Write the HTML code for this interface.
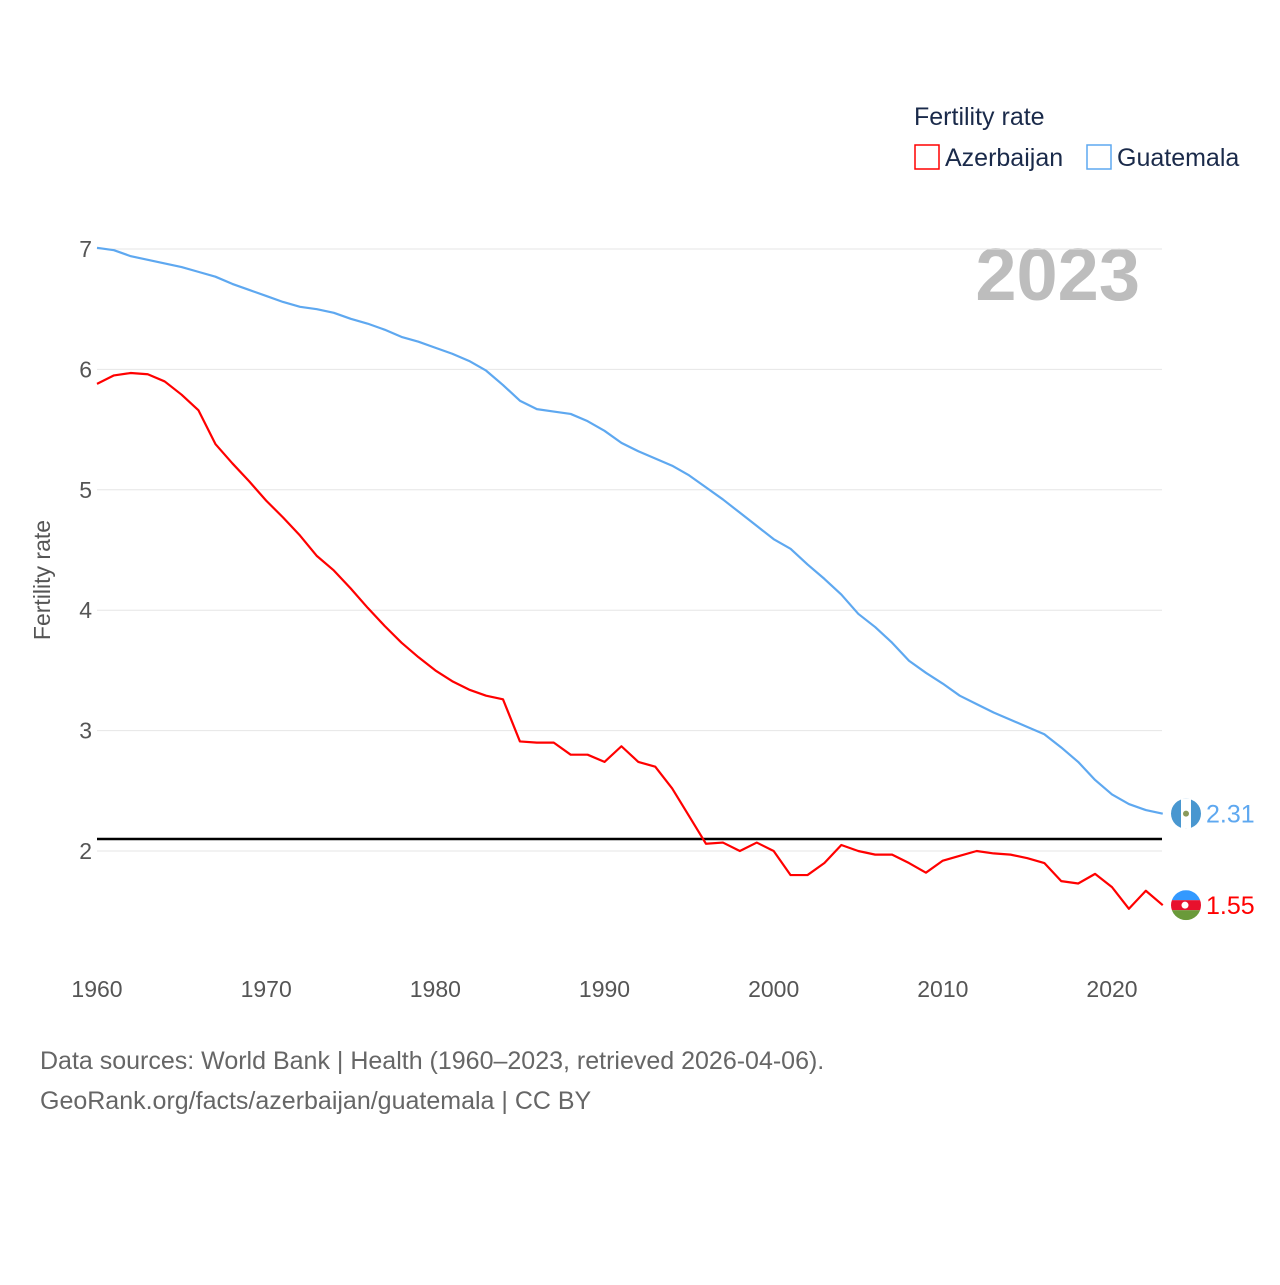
<!DOCTYPE html>
<html><head><meta charset="utf-8">
<style>
body{margin:0;background:#fff;font-family:"Liberation Sans",sans-serif;}
svg text{font-family:"Liberation Sans",sans-serif;}
</style></head>
<body>
<svg id="chart" width="1280" height="1280" xmlns="http://www.w3.org/2000/svg">
<rect width="1280" height="1280" fill="#fff"/>
<g>
<text x="914" y="125" font-size="25" fill="#1a2a4a">Fertility rate</text>
<rect x="915" y="145" width="24" height="24" fill="none" stroke="#f00" stroke-width="1.5"/>
<text x="945" y="166" font-size="25" fill="#1a2a4a">Azerbaijan</text>
<rect x="1087" y="145" width="24" height="24" fill="none" stroke="#5ea8f0" stroke-width="1.5"/>
<text x="1117" y="166" font-size="25" fill="#1a2a4a">Guatemala</text>
</g>
<text x="1140" y="300" font-size="74" font-weight="bold" fill="#bdbdbd" text-anchor="end">2023</text>
<g id="grid"></g>
<g id="yt"></g>
<g id="xt"></g>
<text transform="translate(50,580) rotate(-90)" font-size="23" fill="#555" text-anchor="middle">Fertility rate</text>
<g id="series"></g>
<text x="40" y="1069" font-size="25" fill="#666">Data sources: World Bank | Health (1960–2023, retrieved 2026-04-06).</text>
<text x="40" y="1109" font-size="25" fill="#666">GeoRank.org/facts/azerbaijan/guatemala | CC BY</text>
</svg>
<script>
const years=[];for(let y=1960;y<=2023;y++)years.push(y);
const guatemala=[7.01,6.99,6.94,6.91,6.88,6.85,6.81,6.77,6.71,6.66,6.61,6.56,6.52,6.50,6.47,6.42,6.38,6.33,6.27,6.23,6.18,6.13,6.07,5.99,5.87,5.74,5.67,5.65,5.63,5.57,5.49,5.39,5.32,5.26,5.20,5.12,5.02,4.92,4.81,4.70,4.59,4.51,4.38,4.26,4.13,3.97,3.86,3.73,3.58,3.48,3.39,3.29,3.22,3.15,3.09,3.03,2.97,2.86,2.74,2.59,2.47,2.39,2.34,2.31];
const azerbaijan=[5.88,5.95,5.97,5.96,5.90,5.79,5.66,5.38,5.22,5.07,4.91,4.77,4.62,4.45,4.33,4.18,4.02,3.87,3.73,3.61,3.50,3.41,3.34,3.29,3.26,2.91,2.90,2.90,2.80,2.80,2.74,2.87,2.74,2.70,2.52,2.29,2.06,2.07,2.00,2.07,2.00,1.80,1.80,1.90,2.05,2.00,1.97,1.97,1.90,1.82,1.92,1.96,2.00,1.98,1.97,1.94,1.90,1.75,1.73,1.81,1.70,1.52,1.67,1.55];
const yTicks=[2,3,4,5,6,7];
const xTicks=[1960,1970,1980,1990,2000,2010,2020];
const refLine=2.1;
const NS="http://www.w3.org/2000/svg";
const X=y=>97+(y-1960)*(1015/60);
const Y=v=>851-(v-2)*120.4;
function mk(t,a,p){const e=document.createElementNS(NS,t);for(const k in a)e.setAttribute(k,a[k]);p.appendChild(e);return e;}
const grid=document.getElementById('grid'),yt=document.getElementById('yt'),xt=document.getElementById('xt'),ser=document.getElementById('series');
yTicks.forEach(v=>{
 const l=mk('line',{x1:97,x2:1162,y1:Y(v),y2:Y(v),stroke:'#e6e6e6','stroke-width':1},grid);
 
 
 const t=mk('text',{x:92,y:Y(v)+8,'font-size':23,fill:'#555','text-anchor':'end'},yt);t.textContent=v;
 
 
});
xTicks.forEach(v=>{
 const t=mk('text',{x:X(v),y:997,'font-size':23,fill:'#555','text-anchor':'middle'},xt);t.textContent=v;
 
 
});
const rl=mk('line',{x1:97,x2:1162,y1:Y(refLine),y2:Y(refLine),stroke:'#000','stroke-width':2.5},ser);


function line(vals,color,name){
 const p=mk('polyline',{points:vals.map((v,i)=>X(years[i])+','+Y(v)).join(' '),fill:'none',stroke:color,'stroke-width':2.2,'stroke-linejoin':'round'},ser);
 
 
 const lv=vals[vals.length-1],cy=Y(lv);
 const g=mk('g',{},ser);
 
 
 if(name==='guatemala'){
  mk('circle',{cx:1186,cy:cy,r:15,fill:'#4997d0'},g);
  mk('rect',{x:1181,y:cy-15,width:10,height:30,fill:'#fff'},g);
  mk('circle',{cx:1186,cy:cy,r:3,fill:'#8a9a5b'},g);
 }else{
  mk('clipPath',{id:'cp'},g);
  const cp=g.lastChild;mk('circle',{cx:1186,cy:cy,r:15},cp);
  const gg=mk('g',{'clip-path':'url(#cp)'},g);
  mk('rect',{x:1171,y:cy-15,width:30,height:10,fill:'#3f9c35'.replace('3f9c35','3399ff')},gg);
  mk('rect',{x:1171,y:cy-5,width:30,height:10,fill:'#e8112d'},gg);
  mk('rect',{x:1171,y:cy+5,width:30,height:10,fill:'#6a9a3a'},gg);
  mk('circle',{cx:1185,cy:cy,r:3.5,fill:'#fff'},gg);
 }
 const t=mk('text',{x:1206,y:cy+9,'font-size':25,fill:color},ser);t.textContent=lv.toFixed(2);
 
 
}
line(guatemala,'#5ea8f0','guatemala');
line(azerbaijan,'#f00','azerbaijan');
</script>
</body></html>
